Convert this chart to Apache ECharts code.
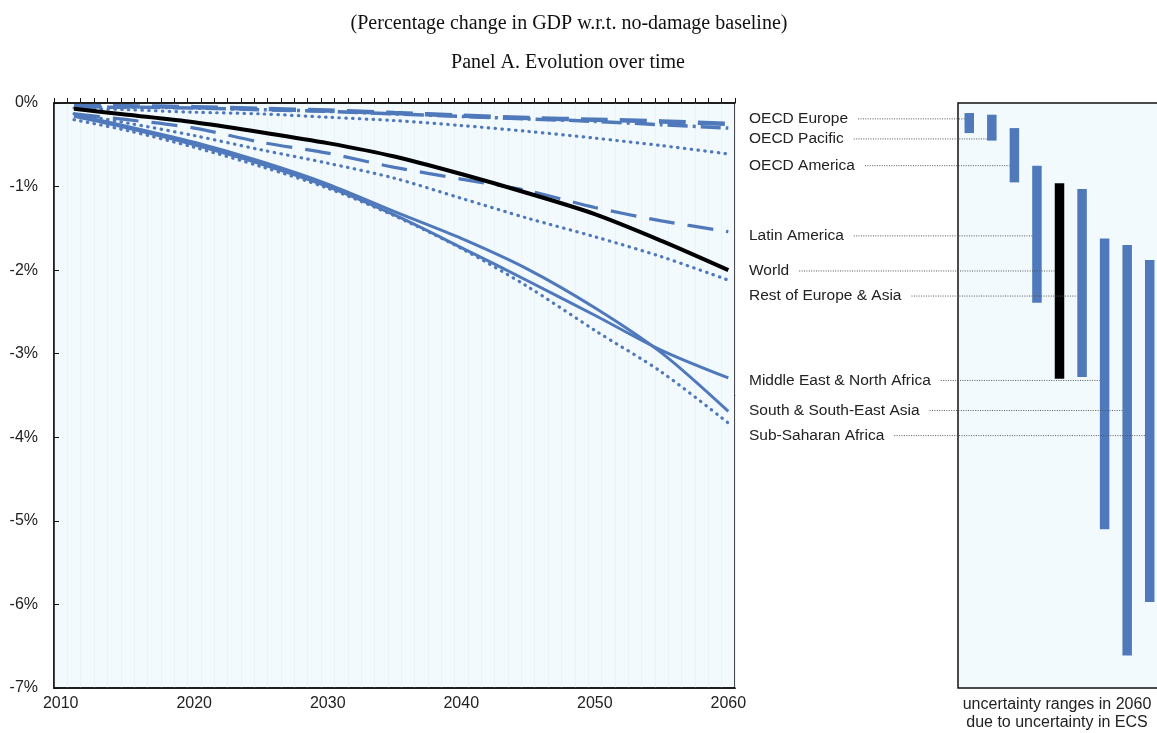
<!DOCTYPE html>
<html>
<head>
<meta charset="utf-8">
<script src="https://cdn.jsdelivr.net/npm/echarts@6/dist/echarts.min.js"></script>
<style>
  html, body { margin: 0; padding: 0; background: #ffffff; }
  #chart { width: 1157px; height: 733px; }
</style>
</head>
<body>
<div id="chart"></div>
<script>
// GDP impact of climate damages, % change w.r.t. no-damage baseline
const years = [2011, 2015, 2020, 2025, 2030, 2035, 2040, 2045, 2050, 2055, 2060];

const oecdEurope   = [-0.04, -0.04, -0.05, -0.07, -0.09, -0.12, -0.15, -0.18, -0.20, -0.22, -0.25];
const oecdPacific  = [-0.05, -0.05, -0.06, -0.08, -0.10, -0.13, -0.16, -0.19, -0.22, -0.26, -0.30];
const oecdAmerica  = [-0.06, -0.08, -0.11, -0.13, -0.17, -0.21, -0.27, -0.34, -0.42, -0.51, -0.61];
const latinAmerica = [-0.13, -0.20, -0.30, -0.47, -0.60, -0.77, -0.91, -1.05, -1.25, -1.41, -1.54];
const world        = [-0.07, -0.14, -0.23, -0.35, -0.48, -0.64, -0.85, -1.08, -1.33, -1.65, -2.00];
const restEurAsia  = [-0.13, -0.24, -0.39, -0.56, -0.72, -0.90, -1.14, -1.38, -1.60, -1.84, -2.12];
const menaRegion   = [-0.16, -0.30, -0.50, -0.73, -1.00, -1.34, -1.73, -2.13, -2.54, -2.96, -3.29];
const southAsia    = [-0.14, -0.28, -0.47, -0.70, -0.97, -1.30, -1.62, -1.99, -2.45, -2.99, -3.69];
const subSaharan   = [-0.20, -0.33, -0.53, -0.76, -1.02, -1.35, -1.74, -2.20, -2.72, -3.22, -3.83];

const regions = ['OECD Europe', 'OECD Pacific', 'OECD America', 'Latin America', 'World',
  'Rest of Europe & Asia', 'Middle East & North Africa', 'South & South-East Asia', 'Sub-Saharan Africa'];

// 2060 range due to uncertainty in the equilibrium climate sensitivity (ECS)
const rangeHigh2060 = [-0.12, -0.14, -0.30, -0.75, -0.96, -1.03, -1.62, -1.70, -1.88];
const rangeLow2060  = [-0.36, -0.45, -0.95, -2.39, -3.30, -3.28, -5.10, -6.61, -5.97];

// vertical anchor (in %) of each region name beside the panels
const labelAt = [-0.19, -0.43, -0.75, -1.59, -2.01, -2.31, -3.32, -3.68, -3.98];

const xTickLabels = [2010, 2020, 2030, 2040, 2050, 2060];
const yearEdges = [];
for (let y = 2009.5; y <= 2060.5; y += 1) yearEdges.push(y);

const BLUE = '#4f79bb';
const NARROW = '"Liberation Sans Narrow", "Arial Narrow", "Liberation Sans", sans-serif';
const SERIF = '"Liberation Serif", "Times New Roman", serif';
const LABEL_FONT = '15.5px ' + NARROW;

const measureCtx = document.createElement('canvas').getContext('2d');
function textWidth(s) { measureCtx.font = LABEL_FONT; return measureCtx.measureText(s).width; }

function pairs(vals) { return years.map((y, i) => [y, vals[i]]); }

const dotted = { type: [0.5, 6.3], cap: 'round', width: 3.2, color: BLUE };

function lineSeries(name, vals, lineStyle, z) {
  return {
    name, type: 'line', xAxisIndex: 0, yAxisIndex: 0,
    data: pairs(vals), showSymbol: false, smooth: 0.3,
    lineStyle, z: z || 3, silent: true
  };
}

const chart = echarts.init(document.getElementById('chart'), null, { renderer: 'canvas' });

chart.setOption({
  animation: false,
  backgroundColor: '#ffffff',
  title: [
    { text: '(Percentage change in GDP w.r.t. no-damage baseline)', left: 564, top: 9, textAlign: 'center',
      textStyle: { fontFamily: SERIF, fontSize: 20, fontWeight: 'normal', color: '#111' } },
    { text: 'Panel A. Evolution over time', left: 563, top: 48, textAlign: 'center',
      textStyle: { fontFamily: SERIF, fontSize: 20, fontWeight: 'normal', color: '#111' } }
  ],
  grid: [
    { left: 54, top: 103, width: 681, height: 585, show: true, outerBoundsMode: 'none',
      backgroundColor: '#f3fafe', borderColor: '#111', borderWidth: 1.5 },
    { left: 958, top: 103, width: 203, height: 585, show: true, outerBoundsMode: 'none',
      backgroundColor: '#f3fafe', borderColor: '#111', borderWidth: 1.5 }
  ],
  xAxis: [
    // top edge: one tick per year, faint year stripes
    { type: 'value', gridIndex: 0, position: 'top', min: 2009.5, max: 2060.5,
      axisLine: { show: true, lineStyle: { color: '#111', width: 1.5 } },
      axisTick: { show: true, customValues: yearEdges, inside: false, length: 5, lineStyle: { color: '#111', width: 1 } },
      axisLabel: { show: false },
      splitLine: { show: true, lineStyle: { color: '#eaf3f8', width: 1 } } },
    // bottom edge: decade labels
    { type: 'value', gridIndex: 0, position: 'bottom', min: 2009.5, max: 2060.5,
      axisLine: { show: true, lineStyle: { color: '#111', width: 1.5 } },
      axisTick: { show: false }, splitLine: { show: false },
      axisLabel: { customValues: xTickLabels, formatter: v => String(v),
        fontFamily: NARROW, fontSize: 16, color: '#222', margin: 8 } },
    { type: 'category', gridIndex: 1, data: regions, boundaryGap: true,
      axisLine: { show: false }, axisTick: { show: false }, axisLabel: { show: false }, splitLine: { show: false } }
  ],
  yAxis: [
    { type: 'value', gridIndex: 0, min: -7, max: 0, interval: 1,
      axisLine: { show: true, lineStyle: { color: '#111', width: 1.5 } },
      axisTick: { show: true, inside: true, length: 5, lineStyle: { color: '#111' } },
      splitLine: { show: false },
      axisLabel: { formatter: v => v + '%', fontFamily: NARROW, fontSize: 16, color: '#222', margin: 16 } },
    { type: 'value', gridIndex: 1, min: -7, max: 0, interval: 1,
      axisLine: { show: false }, axisTick: { show: false }, axisLabel: { show: false }, splitLine: { show: false } }
  ],
  series: [
    lineSeries('OECD Europe', oecdEurope, { type: [27, 12], width: 4.5, color: BLUE }),
    lineSeries('OECD Pacific', oecdPacific, { type: [20, 5, 3, 5], width: 3.5, color: BLUE }),
    lineSeries('OECD America', oecdAmerica, dotted),
    lineSeries('Latin America', latinAmerica, { type: [26, 13], width: 3.2, color: BLUE }),
    lineSeries('Rest of Europe & Asia', restEurAsia, dotted),
    lineSeries('Middle East & North Africa', menaRegion, { type: 'solid', width: 3, color: BLUE }),
    lineSeries('South & South-East Asia', southAsia, { type: 'solid', width: 3, color: BLUE }),
    lineSeries('Sub-Saharan Africa', subSaharan, dotted),
    lineSeries('World', world, { type: 'solid', width: 4, color: '#000' }, 5),
    {
      name: 'ECS range 2060', type: 'custom', xAxisIndex: 2, yAxisIndex: 1, z: 3, silent: true,
      data: regions.map((r, i) => [i, rangeHigh2060[i], rangeLow2060[i]]),
      renderItem(params, api) {
        const i = api.value(0);
        const top = api.coord([i, api.value(1)]);
        const bot = api.coord([i, api.value(2)]);
        const w = 9.5;
        return { type: 'rect',
          shape: { x: top[0] - w / 2, y: top[1], width: w, height: bot[1] - top[1] },
          style: { fill: regions[i] === 'World' ? '#000' : BLUE } };
      }
    },
    {
      name: 'region names', type: 'custom', xAxisIndex: 2, yAxisIndex: 1, z: 6, silent: true, clip: false,
      data: regions.map((r, i) => [i, labelAt[i]]),
      renderItem(params, api) {
        const i = api.value(0);
        const p = api.coord([i, api.value(1)]);
        const name = regions[i];
        const textX = 749;
        const startX = textX + textWidth(name) + 10;
        const endX = p[0] - 4.75;
        return { type: 'group', children: [
          { type: 'line', shape: { x1: startX, y1: p[1], x2: endX, y2: p[1] },
            style: { stroke: '#555', lineWidth: 1, lineDash: [1, 1.4] } },
          { type: 'text', x: textX, y: p[1],
            style: { text: name, fill: '#222', font: LABEL_FONT, align: 'left', verticalAlign: 'middle' } }
        ] };
      }
    }
  ],
  graphic: [
    { type: 'text', x: 1057, y: 696,
      style: { text: 'uncertainty ranges in 2060\ndue to uncertainty in ECS', fill: '#222',
        font: '16px ' + NARROW, align: 'center', verticalAlign: 'top', lineHeight: 18 } }
  ]
});
</script>
</body>
</html>
